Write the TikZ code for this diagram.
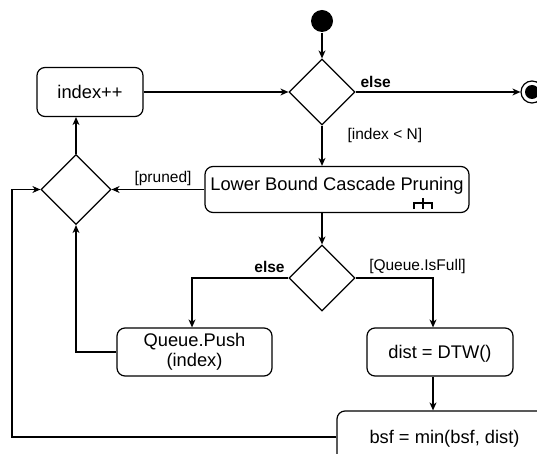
\documentclass[tikz,border=0pt]{standalone}
\usepackage{fontspec}
\setmainfont{Liberation Sans}
\usetikzlibrary{shapes.geometric,arrows.meta,calc}
\begin{document}
\begin{tikzpicture}[x=1pt,y=-1pt, line width=1.2pt,
  >={Stealth[length=8pt,width=7pt,inset=2.5pt]}]
\useasboundingbox (0,0) rectangle (537,454);
\tikzset{
  act/.style={draw, rounded corners=8pt, inner sep=0pt, align=center,
    font=\fontsize{18.3}{20.5}\selectfont},
  dec/.style={draw, diamond, minimum width=66pt, minimum height=66pt, inner sep=0pt},
  lbl/.style={font=\fontsize{15.5}{18}\selectfont, inner sep=0pt},
  blbl/.style={lbl, font=\fontsize{15.5}{18}\selectfont\bfseries},
}
% nodes
\node[circle, fill=black, minimum size=22pt, inner sep=0pt] (start) at (322,21) {};
\node[dec] (d1) at (322,92) {};
\node[circle, draw, minimum size=22pt, inner sep=0pt] (end) at (532,92) {};
\fill (end.center) circle (7pt);
\node[act, minimum width=106pt, minimum height=49pt, text height=13pt, text depth=0pt] (inc) at (90,92) {index++};
\node[dec, minimum width=70pt, minimum height=70pt] (d2) at (76,189.5) {};
\node[act, minimum width=264pt, minimum height=46pt, text height=13pt, text depth=12pt] (lb) at (337,189.5) {Lower Bound Cascade Pruning};
\node[dec] (d3) at (322,278) {};
\node[act, minimum width=155pt, minimum height=48pt] (push) at (194.5,352) {Queue.Push\\(index)};
\node[act, minimum width=146pt, minimum height=48pt, text height=13pt, text depth=0pt] (dist) at (440,352) {dist = DTW()};
\node[act, minimum width=215pt, minimum height=52pt, text height=13pt, text depth=0pt] (bsf) at (444.5,437) {bsf = min(bsf, dist)};
% rake icon
\draw (423,198) -- (423,209);
\draw (414,209) -- (414,203) -- (432,203) -- (432,209);
% coordinates
\coordinate (loopc) at (12,0);
\coordinate (rx) at (433,0);
\coordinate (px) at (192,0);
% connectors
\draw[->] (start) -- (d1);
\draw[->] (d1.east) -- (end.west);
\draw[->] (inc.east) -- (d1.west);
\draw[->] (d1.south) -- (d1.south |- lb.north);
\draw[->] (lb.west) -- (d2.east);
\draw[->] (d2.north) -- (d2.north |- inc.south);
\draw[->] (d1.south |- lb.south) -- (d3.north);
\draw[->] (d3.west) -| (px |- push.north);
\draw[->] (d3.east) -| (rx |- dist.north);
\draw[->] (rx |- dist.south) -- (rx |- bsf.north);
\draw[->] (push.west) -| (d2.south);
\draw[->] (bsf.west) -- (bsf.west -| loopc) |- (d2.west);
% labels
\node[blbl, anchor=base west] (l1) at (360,88) {else};
\node[lbl, anchor=base west] (l2) at (347,140) {[index < N]};
\node[lbl, anchor=base] (l3) at (163,183) {[pruned]};
\node[blbl, anchor=base] (l4) at (269.5,272) {else};
\node[lbl, anchor=base] (l5) at (417.5,270) {[Queue.IsFull]};
\end{tikzpicture}
\end{document}
